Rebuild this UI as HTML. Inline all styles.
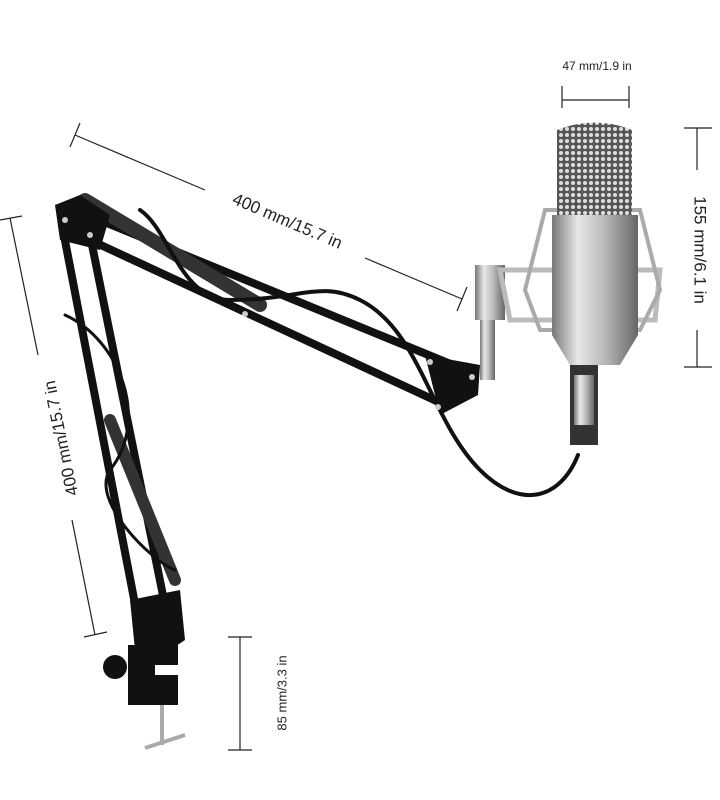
<!DOCTYPE html>
<html><head><meta charset="utf-8"><style>
html,body{margin:0;padding:0;background:#fff;}
svg{display:block;}
text{font-family:"Liberation Sans",sans-serif;fill:#222;}
</style></head><body>
<svg width="720" height="800" viewBox="0 0 720 800" xmlns="http://www.w3.org/2000/svg">
<rect width="720" height="800" fill="#fff"/>
<defs>
<linearGradient id="silv" x1="0" x2="1" y1="0" y2="0">
<stop offset="0" stop-color="#777"/><stop offset="0.3" stop-color="#e8e8e8"/><stop offset="0.6" stop-color="#bbb"/><stop offset="1" stop-color="#666"/>
</linearGradient>
<pattern id="mesh" width="6" height="6" patternUnits="userSpaceOnUse">
<rect width="6" height="6" fill="#555"/><circle cx="3" cy="3" r="2" fill="#ddd"/>
</pattern>
</defs>
<!-- dimension: top 47mm -->
<g stroke="#222" stroke-width="1.2" fill="none">
<line x1="562" y1="100" x2="629" y2="100"/><line x1="562" y1="86" x2="562" y2="108"/><line x1="629" y1="86" x2="629" y2="108"/>
<!-- right 155 -->
<line x1="684" y1="128" x2="712" y2="128"/><line x1="684" y1="367" x2="712" y2="367"/>
<line x1="697" y1="128" x2="697" y2="170"/><line x1="697" y1="330" x2="697" y2="367"/>
<!-- diagonal top -->
<line x1="75" y1="135" x2="205" y2="190"/><line x1="365" y1="258" x2="462" y2="299"/>
<line x1="70" y1="147" x2="80" y2="123"/><line x1="457" y1="311" x2="467" y2="287"/>
<!-- left 400 -->
<line x1="10" y1="218" x2="38" y2="355"/><line x1="72" y1="520" x2="95" y2="635"/>
<line x1="0" y1="220" x2="22" y2="216"/><line x1="84" y1="637" x2="107" y2="632"/>
<!-- bottom 85 -->
<line x1="240" y1="637" x2="240" y2="750"/><line x1="228" y1="637" x2="252" y2="637"/><line x1="228" y1="750" x2="252" y2="750"/>
</g>
<text x="597" y="70" font-size="12" text-anchor="middle">47 mm/1.9 in</text>
<text transform="translate(699,250) rotate(90)" font-size="17" text-anchor="middle" dominant-baseline="middle">155 mm/6.1 in</text>
<text transform="translate(287,222) rotate(23)" font-size="17" text-anchor="middle" dominant-baseline="middle">400 mm/15.7 in</text>
<text transform="translate(62,438) rotate(-101.5)" font-size="17" text-anchor="middle" dominant-baseline="middle">400 mm/15.7 in</text>
<text transform="translate(283,693) rotate(-90)" font-size="13" text-anchor="middle" dominant-baseline="middle">85 mm/3.3 in</text>

<!-- arm -->
<g stroke="#111" stroke-linecap="round" fill="none">
<line x1="75" y1="210" x2="470" y2="372" stroke-width="8"/>
<line x1="90" y1="240" x2="445" y2="405" stroke-width="8"/>
<line x1="85" y1="200" x2="260" y2="305" stroke-width="14" stroke="#333"/>
<line x1="62" y1="225" x2="140" y2="630" stroke-width="8"/>
<line x1="90" y1="235" x2="170" y2="630" stroke-width="8"/>
<line x1="110" y1="420" x2="175" y2="580" stroke-width="12" stroke="#333"/>
<path d="M140 210 C 170 230,180 300,230 300 C 300 300,320 280,360 300 C 420 330,430 420,480 470 C 520 510,560 500,578 455" stroke-width="4"/>
<path d="M65 315 C 120 340,150 420,110 470 C 90 500,150 560,175 570" stroke-width="3"/>
</g>
<polygon points="55,205 80,195 110,215 100,250 60,240" fill="#111"/>
<polygon points="425,355 480,365 478,395 440,415" fill="#111"/>
<polygon points="130,600 180,590 185,640 170,650 135,650" fill="#111"/>
<rect x="128" y="645" width="50" height="60" fill="#111"/>
<rect x="155" y="665" width="25" height="10" fill="#fff"/>
<circle cx="115" cy="667" r="12" fill="#111"/>
<g stroke="#aaa" stroke-width="4" fill="none"><line x1="162" y1="705" x2="162" y2="745"/><line x1="145" y1="748" x2="185" y2="735"/></g>
<g fill="#ccc"><circle cx="65" cy="220" r="3"/><circle cx="90" cy="235" r="3"/><circle cx="430" cy="362" r="3"/><circle cx="438" cy="407" r="3"/><circle cx="472" cy="377" r="3"/><circle cx="245" cy="314" r="3"/></g>

<!-- mic -->
<rect x="475" y="265" width="30" height="55" fill="url(#silv)"/>
<rect x="480" y="320" width="15" height="60" fill="url(#silv)"/>
<path d="M500 270 L660 270 L655 320 L510 320 Z" fill="none" stroke="#bbb" stroke-width="5"/>
<path d="M545 210 L640 210 L660 290 L640 330 L540 330 L525 290 Z" fill="none" stroke="#aaa" stroke-width="4"/>
<path d="M557 130 Q595 115 632 130 L632 215 L557 215 Z" fill="url(#mesh)"/>
<rect x="552" y="215" width="86" height="120" fill="url(#silv)"/>
<path d="M552 335 L638 335 L620 365 L570 365 Z" fill="url(#silv)"/>
<rect x="570" y="365" width="28" height="80" fill="#333"/>
<rect x="574" y="375" width="20" height="50" fill="url(#silv)"/>
</svg>
</body></html>
